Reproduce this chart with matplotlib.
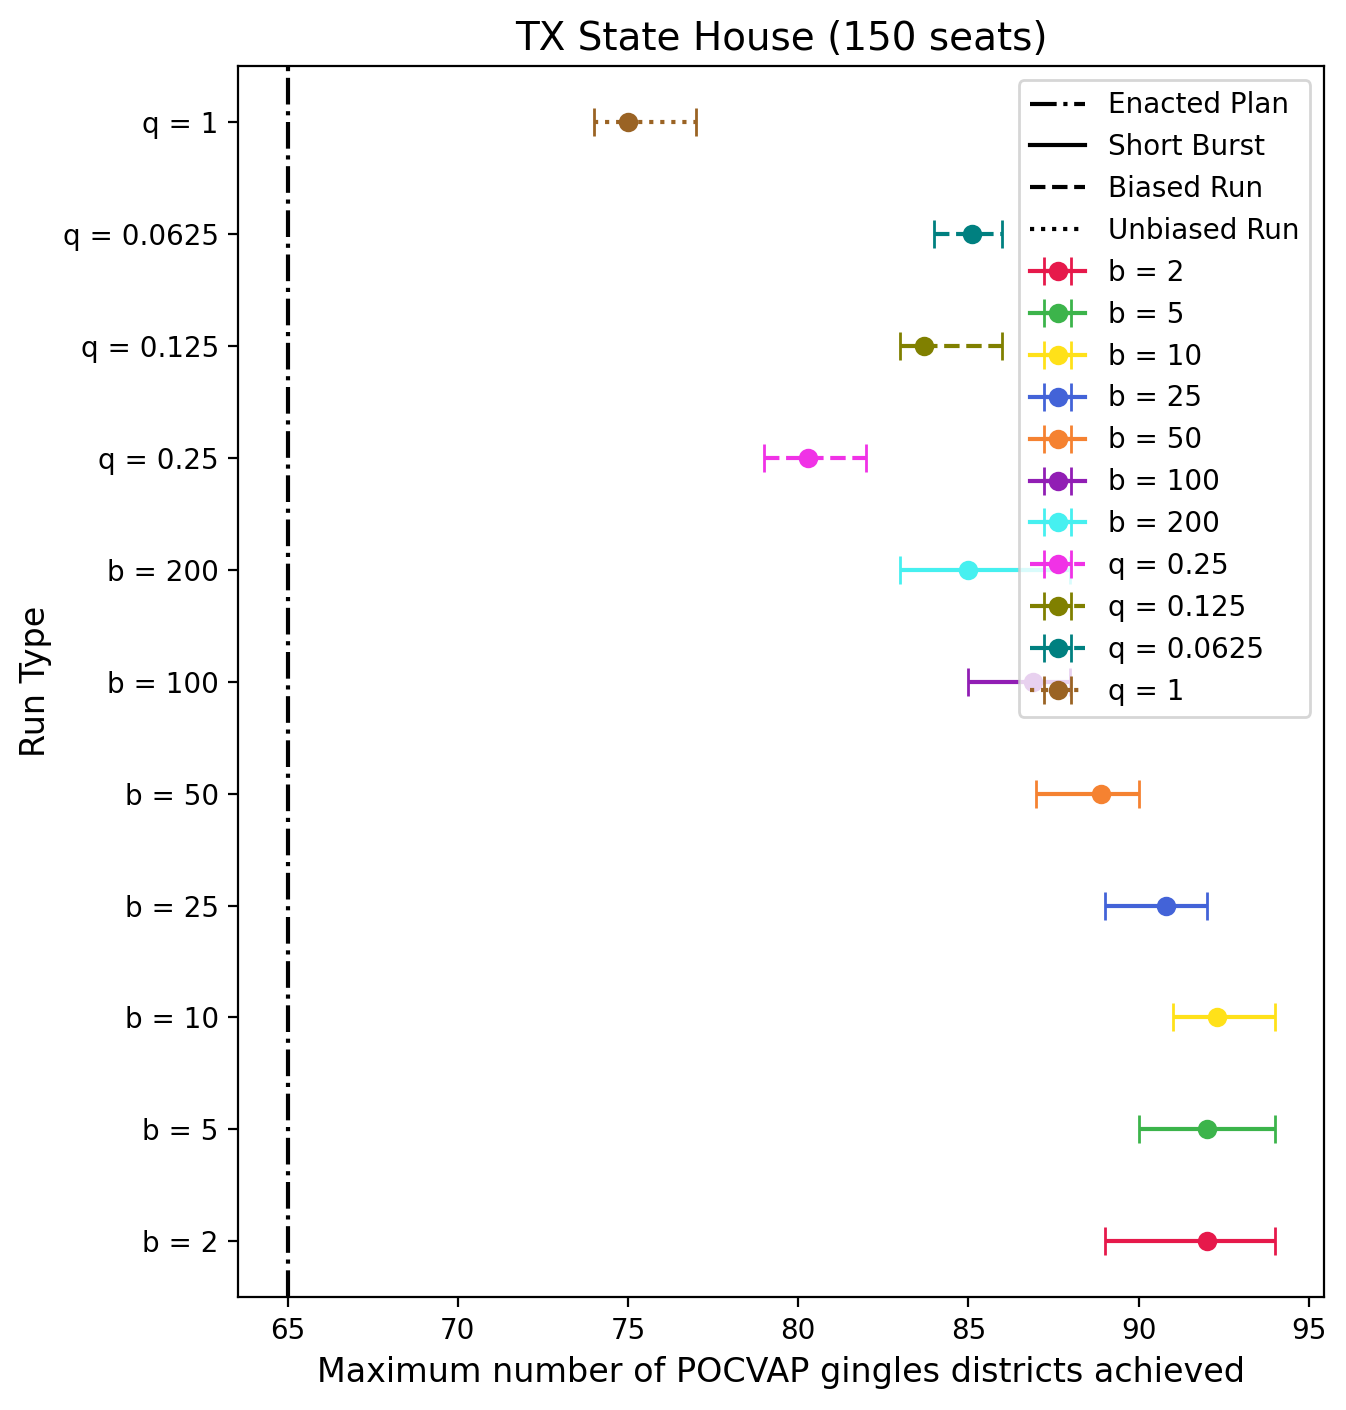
import numpy as np
from matplotlib import pyplot as plt
from matplotlib.lines import Line2D

# run types, bottom to top
run_labels = ["b = 2", "b = 5", "b = 10", "b = 25", "b = 50", "b = 100", "b = 200",
              "q = 0.25", "q = 0.125", "q = 0.0625", "q = 1"]
means = [92, 92, 92.3, 90.8, 88.9, 86.9, 85, 80.3, 83.7, 85.1, 75]
lows = [89, 90, 91, 89, 87, 85, 83, 79, 83, 84, 74]
highs = [94, 94, 94, 92, 90, 88, 88, 82, 86, 86, 77]
colors = ["#e6194B", "#3cb44b", "#ffe119", "#4363d8", "#f58231", "#911eb4", "#46f0f0",
          "#f032e6", "#808000", "#008080", "#9A6324"]
styles = ["-"] * 7 + ["--"] * 3 + [":"]
enacted = 65

fig, ax = plt.subplots(figsize=(6.73, 7.05), dpi=200)

ax.axvline(enacted, color="k", linestyle="-.")

eb_handles = []
for i in range(len(run_labels)):
    m = means[i]
    err = [[m - lows[i]], [highs[i] - m]]
    h = ax.errorbar([m], [run_labels[i]], xerr=err, fmt="o", linestyle=styles[i],
                    color=colors[i], capsize=5, label=run_labels[i])
    h[-1][0].set_linestyle(styles[i])
    eb_handles.append(h)

line_handles = [
    Line2D([0], [0], color="k", linestyle="-.", label="Enacted Plan"),
    Line2D([0], [0], color="k", linestyle="-", label="Short Burst"),
    Line2D([0], [0], color="k", linestyle="--", label="Biased Run"),
    Line2D([0], [0], color="k", linestyle=":", label="Unbiased Run"),
]
ax.legend(handles=line_handles + eb_handles, loc="upper right")

ax.set_title("TX State House (150 seats)", fontsize=14)
ax.set_xlabel("Maximum number of POCVAP gingles districts achieved", fontsize=12)
ax.set_ylabel("Run Type", fontsize=12)

plt.subplots_adjust(left=0.177, right=0.9837, top=0.953, bottom=0.08)
plt.savefig("out.png", dpi=200)
